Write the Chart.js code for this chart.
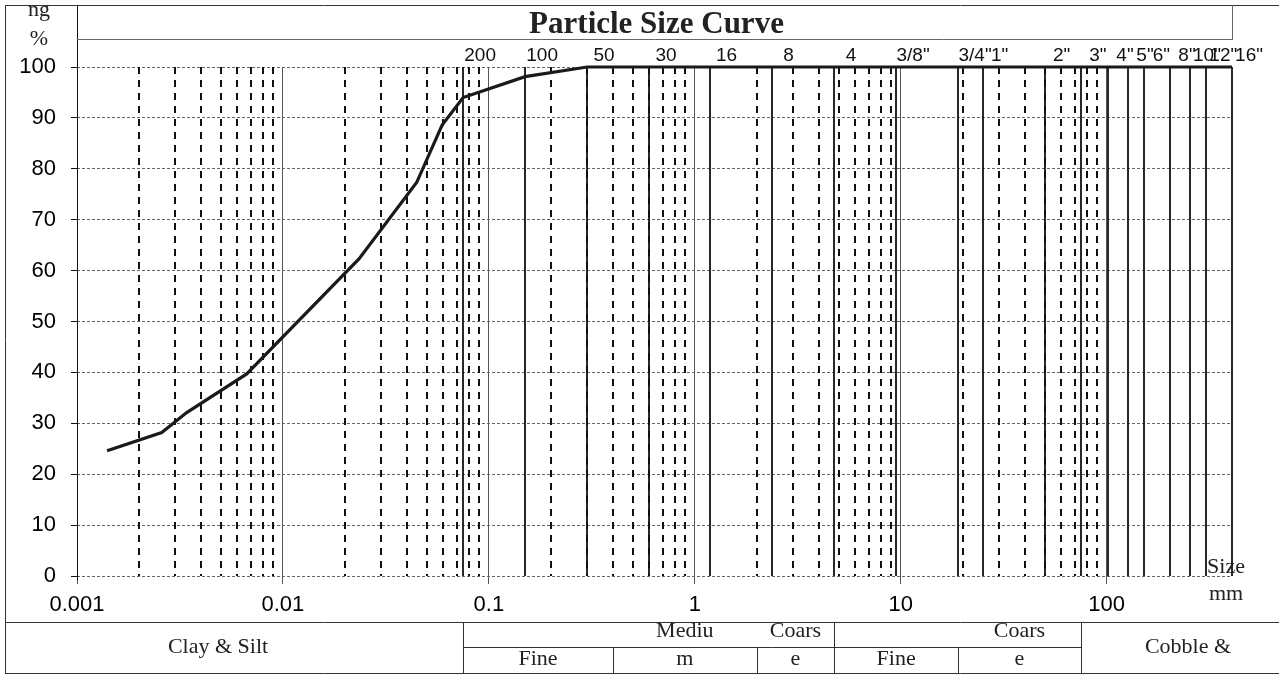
<!DOCTYPE html>
<html lang="en">
<head>
<meta charset="UTF-8">
<title>Particle Size Curve</title>
<style>
  html, body { margin: 0; padding: 0; background: #fff; }
  #wrap { width: 1279px; height: 675px; }
</style>
</head>
<body>
<div id="wrap"><canvas id="psdChart" width="1279" height="675"></canvas></div>

<script src="https://cdn.jsdelivr.net/npm/chart.js@4/dist/chart.umd.min.js"></script>
<script>
// grain size (mm) and percent passing
var grainSize = [0.0014, 0.00258, 0.00341, 0.00667, 0.0234, 0.0446, 0.0593, 0.075, 0.15, 0.3,
                 0.6, 1.18, 2.36, 4.75, 9.5, 19, 25, 50, 75, 101.6, 127, 152.4, 203.2, 254, 304.8, 406.4];
var percentPassing = [24.6, 28.2, 32.1, 39.7, 62.3, 77.3, 88.6, 94.0, 98.1, 100,
                      100, 100, 100, 100, 100, 100, 100, 100, 100, 100, 100, 100, 100, 100, 100, 100];

var decadeTicks = [0.001, 0.01, 0.1, 1, 10, 100];
var decadeLabels = ['0.001', '0.01', '0.1', '1', '10', '100'];
var percentTicks = [0, 10, 20, 30, 40, 50, 60, 70, 80, 90, 100];

// sieve openings (mm) and their names along the top
var sieveSizes = [0.075, 0.15, 0.3, 0.6, 1.18, 2.36, 4.75, 9.5, 19, 25, 50, 75,
                  101.6, 127, 152.4, 203.2, 254, 304.8, 406.4];
var sieveLabels = ['200', '100', '50', '30', '16', '8', '4', '3/8"', '3/4"', '1"', '2"', '3"',
                   '4"', '5"', '6"', '8"', '10"', '12"', '16"'];

// soil classification strip under the axis
var soilDividers = [0.075, 4.75, 75];
var subDividers = [0.4, 2, 19];
var subFrom = [0.075, 0.4, 2, 4.75, 19];
var subTo = [0.4, 2, 4.75, 19, 75];
var subTop = ['', 'Mediu', 'Coars', '', 'Coars'];
var subBottom = ['Fine', 'm', 'e', 'Fine', 'e'];

var SANS = '"Liberation Sans", Arial, sans-serif';
var SERIF = '"Liberation Serif", "Times New Roman", serif';

// dashed minor log lines 2..9 in each decade
var minorLines = [];
[0.001, 0.01, 0.1, 1, 10].forEach(function (d) {
  for (var k = 2; k <= 9; k++) minorLines.push(d * k);
});

function vline(ctx, x, y1, y2) {
  ctx.beginPath(); ctx.moveTo(x, y1); ctx.lineTo(x, y2); ctx.stroke();
}
function hline(ctx, y, x1, x2) {
  ctx.beginPath(); ctx.moveTo(x1, y); ctx.lineTo(x2, y); ctx.stroke();
}

var sheetPlugin = {
  id: 'sheet',
  beforeDatasetsDraw: function (chart) {
    var ctx = chart.ctx, xs = chart.scales.x, a = chart.chartArea;
    ctx.save();
    ctx.strokeStyle = '#111';
    ctx.lineWidth = 2;
    ctx.setLineDash([7, 6]);
    minorLines.forEach(function (v) {
      vline(ctx, Math.round(xs.getPixelForValue(v)), a.top, a.bottom);
    });
    ctx.setLineDash([]);
    ctx.lineWidth = 1.8;
    sieveSizes.forEach(function (v) {
      vline(ctx, Math.round(xs.getPixelForValue(v)), a.top, a.bottom);
    });
    ctx.restore();
  },
  afterDraw: function (chart) {
    var ctx = chart.ctx, xs = chart.scales.x, a = chart.chartArea;
    var px = function (v) { return Math.round(xs.getPixelForValue(v)) + 0.5; };
    ctx.save();

    // outer frame
    ctx.strokeStyle = '#333';
    ctx.lineWidth = 1;
    hline(ctx, 5.5, 5, 1279);
    vline(ctx, 5.5, 5, 674);
    hline(ctx, 673.5, 5, 1279);

    // y axis runs from frame top down to the x axis
    ctx.strokeStyle = '#111';
    vline(ctx, a.left + 0.5, 5, a.bottom + 4);

    // title box
    ctx.strokeStyle = '#666';
    hline(ctx, 39.5, a.left, a.right);
    vline(ctx, a.right + 0.5, 5, 40);
    ctx.fillStyle = '#222';
    ctx.font = 'bold 31px ' + SERIF;
    ctx.textAlign = 'center';
    ctx.textBaseline = 'alphabetic';
    ctx.fillText('Particle Size Curve', (a.left + a.right) / 2 + 2, 33);

    // y title, cut by the frame
    ctx.save();
    ctx.beginPath(); ctx.rect(6, 6, 70, 60); ctx.clip();
    ctx.font = '22px ' + SERIF;
    ctx.fillText('ng', 39, 16);
    ctx.fillText('%', 39, 45);
    ctx.restore();

    // sieve names
    ctx.fillStyle = '#111';
    ctx.font = '19px ' + SANS;
    sieveSizes.forEach(function (v, i) {
      ctx.fillText(sieveLabels[i], xs.getPixelForValue(v) + 17, 61);
    });

    // x title
    ctx.font = '22px ' + SERIF;
    ctx.fillStyle = '#222';
    ctx.fillText('Size', 1226, 573);
    ctx.fillText('mm', 1226, 600);

    // soil strip
    ctx.strokeStyle = '#333';
    hline(ctx, 622.5, 5, 1279);
    hline(ctx, 647.5, px(soilDividers[0]), px(soilDividers[2]));
    soilDividers.forEach(function (v) { vline(ctx, px(v), 622, 674); });
    subDividers.forEach(function (v) { vline(ctx, px(v), 647, 674); });

    ctx.font = '22px ' + SERIF;
    ctx.fillStyle = '#222';
    ctx.fillText('Clay & Silt', 218, 653);
    ctx.fillText('Cobble &', 1188, 653);
    subFrom.forEach(function (v, i) {
      var cx = (xs.getPixelForValue(v) + xs.getPixelForValue(subTo[i])) / 2;
      if (subTop[i]) ctx.fillText(subTop[i], cx, 637);
      ctx.fillText(subBottom[i], cx, 665);
    });

    ctx.restore();
  }
};

var ctx = document.getElementById('psdChart').getContext('2d');
var chart = new Chart(ctx, {
  type: 'line',
  data: {
    datasets: [{
      data: grainSize.map(function (d, i) { return { x: d, y: percentPassing[i] }; }),
      borderColor: '#1a1a1a',
      borderWidth: 3.2,
      pointRadius: 0,
      tension: 0,
      fill: false,
      clip: false
    }]
  },
  options: {
    responsive: false,
    animation: false,
    layout: { padding: { top: 67, right: 47, left: 0, bottom: 0 } },
    plugins: {
      legend: { display: false },
      tooltip: { enabled: false }
    },
    scales: {
      x: {
        type: 'logarithmic',
        min: 0.001,
        max: 406.4,
        afterBuildTicks: function (s) {
          s.ticks = decadeTicks.map(function (v) { return { value: v }; });
        },
        afterFit: function (s) { s.height = 99; },
        ticks: {
          autoSkip: false,
          maxRotation: 0,
          padding: 8,
          color: '#000',
          font: { family: SANS, size: 22 },
          callback: function (v, i) { return decadeLabels[i]; }
        },
        grid: { color: '#555', lineWidth: 1, tickLength: 8 },
        border: { display: false }
      },
      y: {
        min: 0,
        max: 100,
        afterBuildTicks: function (s) {
          s.ticks = percentTicks.map(function (v) { return { value: v }; });
        },
        afterFit: function (s) { s.width = 77; },
        ticks: {
          padding: 15,
          color: '#000',
          font: { family: SANS, size: 22 }
        },
        grid: {
          color: '#666',
          lineWidth: 1,
          tickLength: 6,
          tickColor: '#111',
          tickBorderDash: []
        },
        border: { display: false, dash: [3, 2] }
      }
    }
  },
  plugins: [sheetPlugin]
});
</script>
</body>
</html>
